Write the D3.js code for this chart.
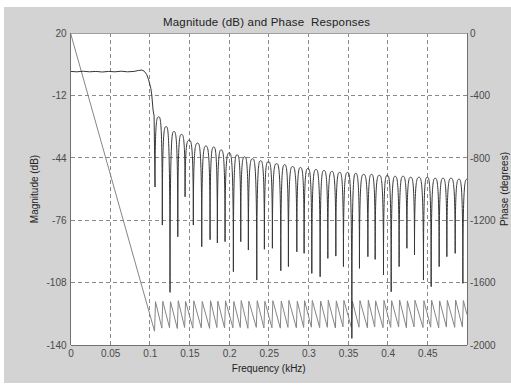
<!DOCTYPE html>
<html>
<head>
<meta charset="utf-8">
<script src="https://cdn.jsdelivr.net/npm/d3@7"></script>
<style>
  body { margin: 0; background: #fff; }
  svg { display: block; font-family: 'Liberation Sans', Arial, sans-serif; }
  .grid line { stroke: #8a8a8a; stroke-dasharray: 4,3; shape-rendering: crispEdges; }
  .tick text { fill: #4a4a4a; font-size: 10px; }
</style>
</head>
<body>
<svg id="chart" width="511" height="385"></svg>
<script>
// axis ticks
var freqTicks = [0, 0.05, 0.1, 0.15, 0.2, 0.25, 0.3, 0.35, 0.4, 0.45];
var magTicks = [20, -12, -44, -76, -108, -140];
var phaseTicks = [0, -400, -800, -1200, -1600, -2000];

// passband + transition of the magnitude (kHz, dB)
var passFreq = [0, 0.008, 0.016, 0.024, 0.032, 0.040, 0.048, 0.056, 0.064, 0.072, 0.080, 0.086, 0.090, 0.093, 0.096, 0.0985, 0.1013, 0.1025, 0.1041, 0.1054];
var passDb   = [0.3, 0.1, 0.4, 0.1, 0.3, 0.0, 0.3, 0.1, 0.4, 0.1, 0.3, 0.8, 1.0, 0.4, -1.2, -4.0, -8.4, -11.8, -19.5, -22.5];

// stopband nulls (kHz, dB)
var nullFreq = [0.1066, 0.1158, 0.1255, 0.1353, 0.1445, 0.1549, 0.1655, 0.1760, 0.1852, 0.1949,
                0.2054, 0.2147, 0.2243, 0.2349, 0.2445, 0.2546, 0.2652, 0.2748, 0.2854, 0.2946,
                0.3043, 0.3148, 0.3245, 0.3346, 0.3442, 0.3548, 0.3644, 0.3750, 0.3842, 0.3947,
                0.4044, 0.4144, 0.4242, 0.4338, 0.4451, 0.4548, 0.4649, 0.4746, 0.4851, 0.4948];
var nullDb = [-59, -78.5, -113, -84.5, -64, -78.5, -89.6, -86, -87.7, -87,
              -102.4, -87, -91.3, -106.7, -90.9, -90.4, -101.9, -99.8, -92.2, -93,
              -103.3, -105, -95.6, -94.4, -99.8, -136.6, -100.7, -94.7, -96.1, -104.1,
              -112.7, -99.8, -90.4, -93.8, -106.7, -110.1, -99.8, -94.7, -93, -108.4];
// sidelobe peak after each null (last one runs to 0.5 kHz)
var lobePeakDb = [-23, -28, -30.5, -32, -35, -36.5, -38, -38.5, -40, -41.5,
                  -42.5, -43.5, -44.5, -45.5, -46, -47, -47.5, -48.5, -49, -49.5,
                  -50, -50.5, -51, -51.5, -51.5, -52, -52.5, -52.5, -53, -53,
                  -53.5, -53.5, -54, -54, -54, -54.5, -54.5, -54.5, -55, -55];

// phase (degrees): value just before / just after each null
var phaseBottomDeg = [-1912, -1892, -1890, -1894, -1888, -1892, -1890, -1893, -1888, -1891,
                      -1890, -1888, -1893, -1887, -1891, -1890, -1892, -1887, -1890, -1888,
                      -1886, -1889, -1887, -1891, -1884, -1888, -1886, -1890, -1885, -1889,
                      -1887, -1885, -1890, -1884, -1888, -1886, -1890, -1885, -1887, -1885];
var phaseTopDeg = [-1722, -1720, -1722, -1716, -1720, -1717, -1721, -1716, -1719, -1717,
                   -1721, -1715, -1719, -1716, -1720, -1716, -1718, -1714, -1719, -1716,
                   -1714, -1718, -1713, -1717, -1714, -1718, -1715, -1713, -1717, -1714,
                   -1716, -1712, -1717, -1713, -1716, -1713, -1717, -1714, -1712, -1715];
var phaseEndDeg = -1805;

var svg = d3.select('#chart');
var plot = { left: 70.5, right: 467, top: 33, bottom: 345 };

var x = d3.scaleLinear().domain([0, 0.5]).range([plot.left, plot.right]);
var yMag = d3.scaleLinear().domain([-140, 20]).range([plot.bottom, plot.top]);
var yPh = d3.scaleLinear().domain([-2000, 0]).range([plot.bottom, plot.top]);

// figure background
svg.append('rect').attr('width', 511).attr('height', 385).attr('fill', '#fff');
svg.append('rect').attr('x', 4).attr('y', 7).attr('width', 507).attr('height', 376).attr('fill', '#d3d3d3');
svg.append('rect')
  .attr('x', plot.left).attr('y', plot.top)
  .attr('width', plot.right - plot.left).attr('height', plot.bottom - plot.top)
  .attr('fill', '#fff');

svg.append('clipPath').attr('id', 'clip')
  .append('rect')
  .attr('x', plot.left).attr('y', plot.top)
  .attr('width', plot.right - plot.left).attr('height', plot.bottom - plot.top);

// grid
var grid = svg.append('g').attr('class', 'grid');
grid.selectAll('.vx').data(freqTicks.slice(1)).enter().append('line')
  .attr('x1', function(d){ return x(d); }).attr('x2', function(d){ return x(d); })
  .attr('y1', plot.top).attr('y2', plot.bottom);
grid.selectAll('.hy').data(magTicks.slice(1, -1)).enter().append('line')
  .attr('x1', plot.left).attr('x2', plot.right)
  .attr('y1', function(d){ return yMag(d); }).attr('y2', function(d){ return yMag(d); });

var lines = svg.append('g').attr('clip-path', 'url(#clip)');

// phase
var ph = d3.path();
ph.moveTo(x(0), yPh(0));
var jumpHalf = 0.0006;
nullFreq.forEach(function(f, i){
  ph.lineTo(x(f - jumpHalf), yPh(phaseBottomDeg[i]));
  ph.lineTo(x(f + jumpHalf), yPh(phaseTopDeg[i]));
});
ph.lineTo(x(0.5), yPh(phaseEndDeg));
lines.append('path').attr('d', ph.toString())
  .attr('fill', 'none').attr('stroke', '#858585').attr('stroke-width', 1);

// magnitude
var mp = d3.path();
passFreq.forEach(function(f, i){
  if (i === 0) mp.moveTo(x(f), yMag(passDb[i]));
  else mp.lineTo(x(f), yMag(passDb[i]));
});
mp.lineTo(x(nullFreq[0]), yMag(nullDb[0]));
nullFreq.forEach(function(f, i){
  var xa = x(f);
  var last = i === nullFreq.length - 1;
  var yp = yMag(lobePeakDb[i]);
  if (last) {
    var xe = x(0.5), h = xe - xa;
    mp.bezierCurveTo(xa, yp, xe - h / 2, yp, xe, yp);
  } else {
    var xb = x(nullFreq[i + 1]);
    var xm = (xa + xb) / 2, hw = xm - xa;
    var yb = yMag(nullDb[i + 1]);
    mp.bezierCurveTo(xa, yp, xm - hw / 2, yp, xm, yp);
    mp.bezierCurveTo(xm + hw / 2, yp, xb, yp, xb, yb);
  }
});
lines.append('path').attr('d', mp.toString())
  .attr('fill', 'none').attr('stroke', '#363636').attr('stroke-width', 1);

// axes box
var box = svg.append('g').attr('shape-rendering', 'crispEdges');
box.append('line').attr('x1', plot.left).attr('x2', plot.right).attr('y1', plot.top).attr('y2', plot.top).attr('stroke', '#a0a0a0');
box.append('line').attr('x1', plot.left).attr('x2', plot.right).attr('y1', plot.bottom).attr('y2', plot.bottom).attr('stroke', '#707070');
box.append('line').attr('x1', plot.left).attr('x2', plot.left).attr('y1', plot.top).attr('y2', plot.bottom).attr('stroke', '#707070');
box.append('line').attr('x1', plot.right).attr('x2', plot.right).attr('y1', plot.top).attr('y2', plot.bottom).attr('stroke', '#707070');

// tick labels, plain hyphen minus and no thousands comma
var plain = function(d){ return String(+(+d).toFixed(2)); };
var xAxis = d3.axisBottom(x).tickValues(freqTicks).tickSize(0).tickPadding(5).tickFormat(plain);
svg.append('g').attr('transform', 'translate(0,' + plot.bottom + ')').call(xAxis)
  .call(function(g){ g.select('.domain').remove(); });

var yAxisL = d3.axisLeft(yMag).tickValues(magTicks).tickSize(0).tickPadding(4).tickFormat(plain);
svg.append('g').attr('transform', 'translate(' + plot.left + ',0)').call(yAxisL)
  .call(function(g){ g.select('.domain').remove(); });

var yAxisR = d3.axisRight(yPh).tickValues(phaseTicks).tickSize(0).tickPadding(3).tickFormat(plain);
svg.append('g').attr('transform', 'translate(' + plot.right + ',0)').call(yAxisR)
  .call(function(g){ g.select('.domain').remove(); });

svg.selectAll('.tick text').attr('font-family', "'Liberation Sans', Arial, sans-serif");

// titles
var cx = (plot.left + plot.right) / 2;
svg.append('text').attr('x', 266.5).attr('y', 25.5).attr('text-anchor', 'middle')
  .attr('xml:space', 'preserve').style('white-space', 'pre')
  .attr('font-size', 11.5).attr('textLength', 207).attr('lengthAdjust', 'spacing')
  .attr('fill', '#222').text('Magnitude (dB) and Phase  Responses');
svg.append('text').attr('x', cx).attr('y', 372).attr('text-anchor', 'middle')
  .attr('font-size', 10).attr('fill', '#222').text('Frequency (kHz)');
svg.append('text').attr('transform', 'translate(38,' + ((plot.top + plot.bottom) / 2) + ') rotate(-90)')
  .attr('text-anchor', 'middle').attr('font-size', 10).attr('fill', '#222').text('Magnitude (dB)');
svg.append('text').attr('transform', 'translate(508,' + ((plot.top + plot.bottom) / 2) + ') rotate(-90)')
  .attr('text-anchor', 'middle').attr('font-size', 10).attr('fill', '#222').text('Phase (degrees)');
</script>
</body>
</html>
